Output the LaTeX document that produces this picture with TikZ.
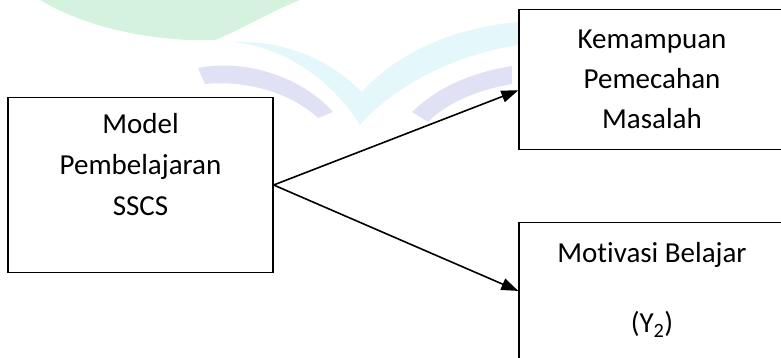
\documentclass[tikz,border=0pt]{standalone}
\usepackage{fontspec}
\setmainfont[Ligatures={NoCommon}]{Carlito}
\usetikzlibrary{arrows.meta,positioning}

\definecolor{wmgreen}{RGB}{212,242,221}
\definecolor{wmcyan}{RGB}{228,247,250}
\definecolor{wmpurple}{RGB}{225,225,246}

\begin{document}
\begin{tikzpicture}[x=1pt,y=-1pt,
	box/.style={draw,rectangle,line width=1.3pt,inner sep=0pt,align=center,minimum width=266pt},
	>={Triangle[length=17pt,width=12pt]}]
	\useasboundingbox (0,0) rectangle (781,358);
	% faint logo behind the diagram
	\fill[wmgreen] (40,0) .. controls (90,30) and (160,42) .. (215,40) .. controls (240,30) and (270,12) .. (300,0) -- cycle;
	\fill[wmcyan] (233,42) .. controls (290,48) and (335,85) .. (360,125) .. controls (395,85) and (455,55) .. (518,45) -- (518,22) .. controls (450,28) and (395,55) .. (362,92) .. controls (330,60) and (285,40) .. (233,42);
	\fill[wmpurple] (198,68) .. controls (250,58) and (305,80) .. (333,112) -- (318,118) .. controls (290,92) and (245,80) .. (205,84) -- cycle;
	\fill[wmpurple] (412,112) .. controls (440,85) and (475,72) .. (512,66) -- (512,84) .. controls (478,90) and (448,102) .. (428,122) -- cycle;

	\node[box,minimum width=265pt,minimum height=175.5pt,font=\fontsize{29}{41}\selectfont] (model) at (140.5,185) {Model\\Pembelajaran\\SSCS\\\mbox{}};
	\node[box,minimum height=140pt,font=\fontsize{29}{40}\selectfont] (kemampuan) at (652,79.3) {Kemampuan\\Pemecahan\\Masalah};
	\node[box,minimum height=165pt,font=\fontsize{29}{35}\selectfont] (motivasi) [below=72pt of kemampuan] {Motivasi Belajar\\\mbox{}\\(Y\textsubscript{2})\\\mbox{}};

	\path[->,line width=1.6pt]
	(model.east) edge ([yshift=-11pt]kemampuan.west)
	             edge ([yshift=-69pt]motivasi.north west);
\end{tikzpicture}
\end{document}
